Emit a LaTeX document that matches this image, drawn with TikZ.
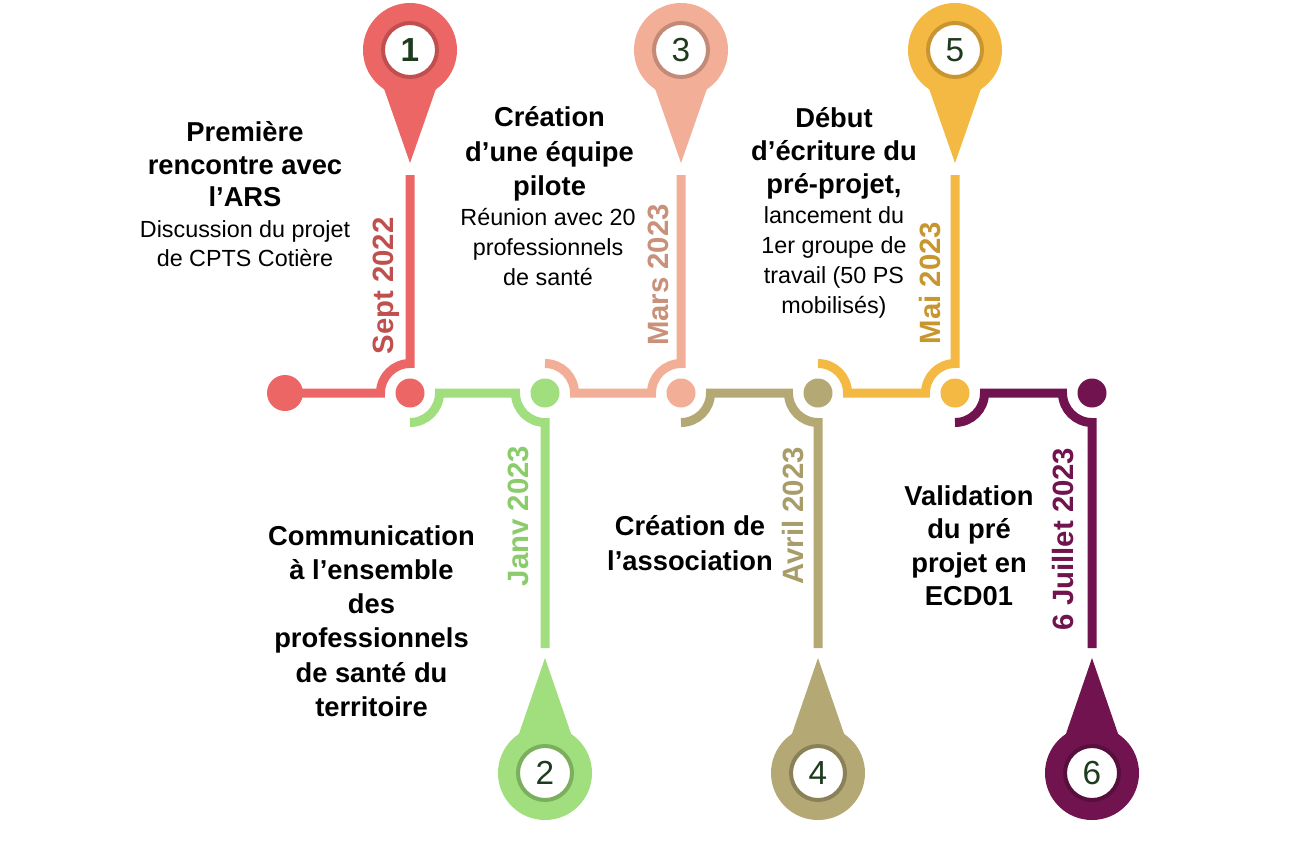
\documentclass[tikz,border=0pt]{standalone}
\usepackage{fontspec}
\setmainfont{Liberation Sans}
\definecolor{cA}{HTML}{EC6666}
\definecolor{cB}{HTML}{A0DE7E}
\definecolor{cC}{HTML}{F2AE96}
\definecolor{cD}{HTML}{B4A874}
\definecolor{cE}{HTML}{F4B942}
\definecolor{cF}{HTML}{70134E}
\definecolor{rA}{HTML}{C0504F}
\definecolor{rB}{HTML}{7BAF5E}
\definecolor{rC}{HTML}{C48A78}
\definecolor{rD}{HTML}{8A8158}
\definecolor{rE}{HTML}{C99530}
\definecolor{rF}{HTML}{590F3E}
\definecolor{tA}{HTML}{C0504D}
\definecolor{tB}{HTML}{8ACB6A}
\definecolor{tC}{HTML}{C9907A}
\definecolor{tD}{HTML}{A89D68}
\definecolor{tE}{HTML}{C8962E}
\definecolor{tF}{HTML}{70134E}
\definecolor{numcol}{HTML}{1E3B1E}
\newcommand\txtblock[6]{%
  \foreach \ln [count=\i] in {#6} {\node[#5, anchor=base] (#1-\i) at (#2,{#3+(\i-1)*#4}) {\ln};}}
\begin{document}
\begin{tikzpicture}[x=0.75pt,y=-0.75pt,
  seg/.style={line width=6.75pt},
  dotn/.style={circle, inner sep=0pt, minimum size=21.75pt},
  numc/.style={circle, fill=white, inner sep=0pt, minimum size=40.5pt, line width=3pt,
     text=numcol, font=\fontsize{25}{25}\selectfont},
  ttl/.style={font=\bfseries\fontsize{20.5}{24}\selectfont, inner sep=0pt},
  bod/.style={font=\fontsize{17.5}{21}\selectfont, inner sep=0pt},
  datel/.style={font=\bfseries\fontsize{22}{26}\selectfont, rotate=90, inner sep=0pt,
     text height=15.8pt, text depth=0pt}]
\useasboundingbox (0,0) rectangle (1302,850);
\fill[white] (0,0) rectangle (1302,850);
% anchor points
\coordinate (d0) at (285,393);
\coordinate (d1) at (410,393);
\coordinate (d2) at (545,393);
\coordinate (d3) at (681,393);
\coordinate (d4) at (818,393);
\coordinate (d5) at (955,393);
\coordinate (d6) at (1092,393);
\coordinate (e1) at (410,175);
\coordinate (e2) at (545,648);
\coordinate (e3) at (681,175);
\coordinate (e4) at (818,648);
\coordinate (e5) at (955,175);
\coordinate (e6) at (1092,648);
% segments
\draw[seg,cA] (d0) -- ([xshift=-22.125pt]d1) arc[start angle=180,end angle=90,radius=22.125pt] -- (e1);
\draw[seg,cB] ([yshift=-22.125pt]d1) arc[start angle=270,end angle=360,radius=22.125pt] -- ([xshift=-22.125pt]d2) arc[start angle=180,end angle=270,radius=22.125pt] -- (e2);
\draw[seg,cC] ([yshift=22.125pt]d2) arc[start angle=90,end angle=0,radius=22.125pt] -- ([xshift=-22.125pt]d3) arc[start angle=180,end angle=90,radius=22.125pt] -- (e3);
\draw[seg,cD] ([yshift=-22.125pt]d3) arc[start angle=270,end angle=360,radius=22.125pt] -- ([xshift=-22.125pt]d4) arc[start angle=180,end angle=270,radius=22.125pt] -- (e4);
\draw[seg,cE] ([yshift=22.125pt]d4) arc[start angle=90,end angle=0,radius=22.125pt] -- ([xshift=-22.125pt]d5) arc[start angle=180,end angle=90,radius=22.125pt] -- (e5);
\draw[seg,cF] ([yshift=-22.125pt]d5) arc[start angle=270,end angle=360,radius=22.125pt] -- ([xshift=-22.125pt]d6) arc[start angle=180,end angle=270,radius=22.125pt] -- (e6);
% dots
\node[dotn, minimum size=27pt, fill=cA] (dot0) at (d0) {};
\node[dotn, fill=cA] (dot1) at (d1) {};
\node[dotn, fill=cB] (dot2) at (d2) {};
\node[dotn, fill=cC] (dot3) at (d3) {};
\node[dotn, fill=cD] (dot4) at (d4) {};
\node[dotn, fill=cE] (dot5) at (d5) {};
\node[dotn, fill=cF] (dot6) at (d6) {};
% pins (top)
\foreach \px/\c/\r/\n in {410/cA/rA/{\textbf{1}}, 681/cC/rC/3, 955/cE/rE/5} {
  \fill[\c] (\px,50) circle[radius=35.25pt];
  \fill[\c] (\px-39.5,50) -- (\px,163) -- (\px+39.5,50) -- cycle;
  \node[numc, draw=\r] (pin\px) at (\px,50) {\n};
}
% pins (bottom)
\foreach \px/\c/\r/\n in {545/cB/rB/2, 818/cD/rD/4, 1092/cF/rF/6} {
  \fill[\c] (\px,773) circle[radius=35.25pt];
  \fill[\c] (\px-39.5,773) -- (\px,658) -- (\px+39.5,773) -- cycle;
  \node[numc, draw=\r] (pin\px) at (\px,773) {\n};
}
% dates
\node[datel, text=tA] (date1) at (382.5,286) {Sept 2022};
\node[datel, text=tB] (date2) at (517.5,516) {Janv 2023};
\node[datel, text=tC] (date3) at (657.5,275) {Mars 2023};
\node[datel, text=tD] (date4) at (792.5,516) {Avril 2023};
\node[datel, text=tE] (date5) at (929.5,283) {Mai 2023};
\node[datel, text=tF] (date6) at (1063,539) {6 Juillet 2023};
% texts
\txtblock{t1}{245}{141.7}{32.5}{ttl}{Première, rencontre avec, l’ARS}
\txtblock{b1}{245}{237.7}{29}{bod}{Discussion du projet, de CPTS Cotière}
\txtblock{t2}{371.5}{545}{34.3}{ttl}{Communication, à l’ensemble, des, professionnels, de santé du, territoire}
\txtblock{t3}{549.5}{126.7}{34.6}{ttl}{Création, d’une équipe, pilote}
\txtblock{b3}{548}{225}{30}{bod}{Réunion avec 20, professionnels, de santé}
\txtblock{t4}{690}{535}{35}{ttl}{Création de, l’association}
\txtblock{t5}{834}{127}{33}{ttl}{Début, d’écriture du, {pré-projet,}}
\txtblock{b5}{834}{223}{30}{bod}{lancement du, 1er groupe de, travail (50 PS, mobilisés)}
\txtblock{t6}{969}{505}{33.5}{ttl}{Validation, du pré, projet en, ECD01}
\end{tikzpicture}
\end{document}
